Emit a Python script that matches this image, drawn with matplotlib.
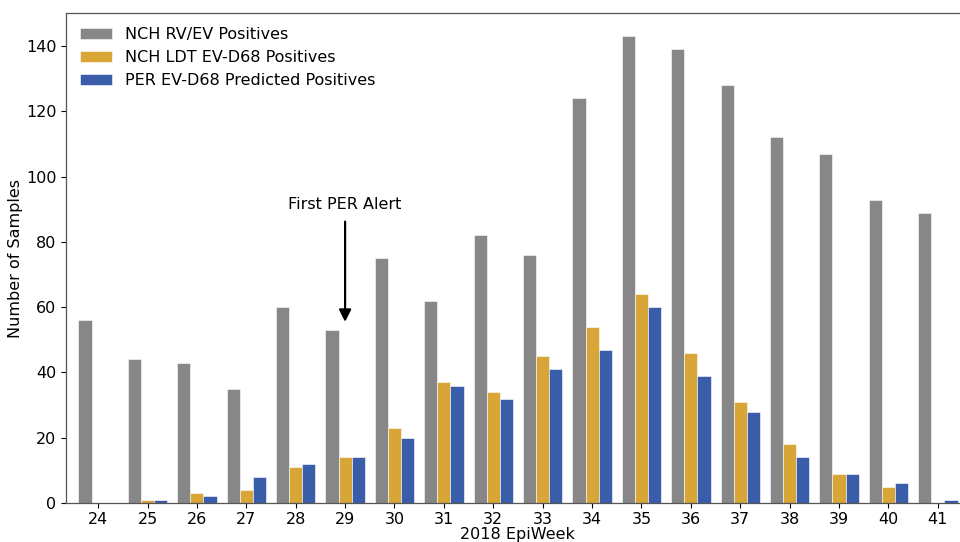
import matplotlib
matplotlib.use("Agg")
import matplotlib.pyplot as plt
import numpy as np

weeks = [24, 25, 26, 27, 28, 29, 30, 31, 32, 33, 34, 35, 36, 37, 38, 39, 40, 41]
rv_ev = [56, 44, 43, 35, 60, 53, 75, 62, 82, 76, 124, 143, 139, 128, 112, 107, 93, 89]
ldt_d68 = [0, 1, 3, 4, 11, 14, 23, 37, 34, 45, 54, 64, 46, 31, 18, 9, 5, 0]
per_d68 = [0, 1, 2, 8, 12, 14, 20, 36, 32, 41, 47, 60, 39, 28, 14, 9, 6, 1]
labels = ["NCH RV/EV Positives", "NCH LDT EV-D68 Positives", "PER EV-D68 Predicted Positives"]
colors = ["#878787", "#D8A637", "#3A5DAA"]

plt.rcParams['font.family'] = ['DejaVu Sans']
fs = 11.5
fig = plt.figure(figsize=(9.6, 5.42), dpi=100)
ax = fig.add_axes([66/960, 39/542, 903/960, 490/542])

x = np.array(weeks, dtype=float)
w = 0.8 / 3
for i, (vals, lab, c) in enumerate(zip([rv_ev, ldt_d68, per_d68], labels, colors)):
    ax.bar(x + (i - 1) * w, vals, width=w, color=c, label=lab,
           edgecolor='white', linewidth=0.4)

ax.set_xlim(23.35, 41.63)
ax.set_ylim(0, 150.15)
ax.set_xticks(weeks)
ax.set_xticklabels([str(v) for v in weeks], fontsize=fs)
ax.set_yticks(range(0, 141, 20))
ax.tick_params(axis='y', labelsize=fs)
ax.tick_params(axis='x', pad=3)
ax.set_xlabel("2018 EpiWeek", fontsize=fs, labelpad=0)
ax.set_ylabel("Number of Samples", fontsize=fs, labelpad=2)
for s in ax.spines.values():
    s.set_color('#555555')
    s.set_linewidth(0.9)

ax.annotate("First PER Alert", xy=(29, 55.5), xytext=(29, 91.5),
            ha='center', va='center', fontsize=fs,
            arrowprops=dict(arrowstyle='-|>', color='black', lw=1.6,
                            mutation_scale=18, shrinkA=5, shrinkB=0))

ax.legend(loc='upper left', frameon=False, fontsize=fs,
          bbox_to_anchor=(0.0, 1.0), borderaxespad=0.5)

fig.savefig("out.png", dpi=100)
